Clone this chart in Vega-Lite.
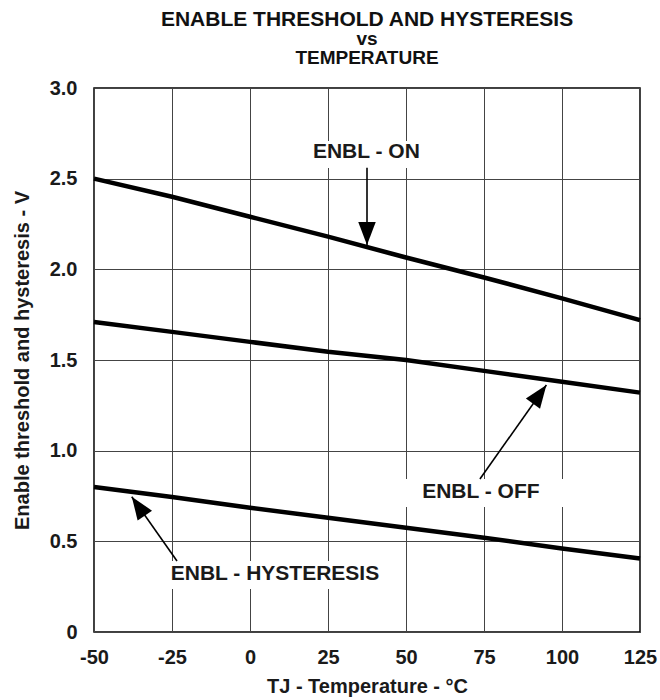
{
  "$schema": "https://vega.github.io/schema/vega-lite/v6.json",
  "autosize": "none",
  "width": 546,
  "height": 544,
  "padding": {"left": 94, "top": 88, "right": 20, "bottom": 68},
  "background": "white",
  "title": {
    "text": "ENABLE THRESHOLD AND HYSTERESIS",
    "subtitle": ["vs", "TEMPERATURE"],
    "font": "Liberation Sans",
    "fontSize": 21,
    "fontWeight": "bold",
    "color": "#111",
    "subtitleFont": "Liberation Sans",
    "subtitleFontSize": 19,
    "subtitleFontWeight": "bold",
    "subtitleColor": "#111",
    "subtitleLineHeight": 19,
    "subtitlePadding": 0,
    "anchor": "middle",
    "frame": "group",
    "offset": 10
  },
  "datasets": {
    "curves": [
      {"series": "ON", "t": -50, "v": 2.50}, {"series": "ON", "t": -25, "v": 2.40}, {"series": "ON", "t": 0, "v": 2.29}, {"series": "ON", "t": 25, "v": 2.18},
      {"series": "ON", "t": 50, "v": 2.065}, {"series": "ON", "t": 75, "v": 1.955}, {"series": "ON", "t": 100, "v": 1.84}, {"series": "ON", "t": 125, "v": 1.72},
      {"series": "OFF", "t": -50, "v": 1.71}, {"series": "OFF", "t": -25, "v": 1.655}, {"series": "OFF", "t": 0, "v": 1.60}, {"series": "OFF", "t": 25, "v": 1.545},
      {"series": "OFF", "t": 50, "v": 1.50}, {"series": "OFF", "t": 75, "v": 1.44}, {"series": "OFF", "t": 100, "v": 1.38}, {"series": "OFF", "t": 125, "v": 1.32},
      {"series": "HYST", "t": -50, "v": 0.80}, {"series": "HYST", "t": -25, "v": 0.745}, {"series": "HYST", "t": 0, "v": 0.685}, {"series": "HYST", "t": 25, "v": 0.63},
      {"series": "HYST", "t": 50, "v": 0.575}, {"series": "HYST", "t": 75, "v": 0.52}, {"series": "HYST", "t": 100, "v": 0.46}, {"series": "HYST", "t": 125, "v": 0.405}
    ],
    "boxes": [
      {"box": "ON", "t": 19.2, "t2": 55.9, "v": 2.559, "v2": 2.708},
      {"box": "OFF", "t": 48.1, "t2": 104.2, "v": 0.689, "v2": 0.844},
      {"box": "HYST", "t": -27.2, "t2": 44.9, "v": 0.237, "v2": 0.392}
    ],
    "labels": [
      {"label": "ENBL - ON", "t": 37.3, "v": 2.647},
      {"label": "ENBL - OFF", "t": 74.0, "v": 0.772},
      {"label": "ENBL - HYSTERESIS", "t": 8.0, "v": 0.320}
    ],
    "arrows": [
      {"arrow": "ON", "t": 37.5, "v": 2.134, "t2": 37.5, "v2": 2.56},
      {"arrow": "OFF", "t": 95.0, "v": 1.362, "t2": 73.7, "v2": 0.844},
      {"arrow": "HYST", "t": -37.9, "v": 0.746, "t2": -23.4, "v2": 0.392}
    ]
  },
  "encoding": {
    "x": {
      "field": "t", "type": "quantitative",
      "scale": {"domain": [-50, 125], "nice": false, "zero": false},
      "axis": {"values": [-50, -25, 0, 25, 50, 75, 100, 125], "labelExpr": "datum.value + ''", "labelFlush": false, "title": "TJ - Temperature - °C", "labelPadding": 15, "titlePadding": 9}
    },
    "y": {
      "field": "v", "type": "quantitative",
      "scale": {"domain": [0, 3], "nice": false, "zero": true},
      "axis": {"values": [0, 0.5, 1, 1.5, 2, 2.5, 3], "labelExpr": "datum.value == 0 ? '0' : format(datum.value, '.1f')", "title": "Enable threshold and hysteresis - V", "labelPadding": 17, "titlePadding": 17}
    }
  },
  "layer": [
    {
      "data": {"name": "boxes"},
      "mark": {"type": "rect", "color": "white", "stroke": null},
      "encoding": {"x2": {"field": "t2"}, "y2": {"field": "v2"}}
    },
    {
      "data": {"name": "curves"},
      "mark": {"type": "line", "color": "black", "strokeWidth": 4.5},
      "encoding": {"detail": {"field": "series"}}
    },
    {
      "data": {"name": "arrows"},
      "mark": {"type": "rule", "color": "black", "strokeWidth": 1.6},
      "encoding": {"x2": {"field": "t2"}, "y2": {"field": "v2"}}
    },
    {
      "data": {"name": "arrows"},
      "transform": [{"filter": "datum.arrow == 'ON'"}],
      "mark": {"type": "point", "shape": "M0,0L0.38,1L-0.38,1Z", "size": 2116, "filled": true, "color": "black", "opacity": 1, "angle": 180}
    },
    {
      "data": {"name": "arrows"},
      "transform": [{"filter": "datum.arrow == 'OFF'"}],
      "mark": {"type": "point", "shape": "M0,0L0.38,1L-0.38,1Z", "size": 2116, "filled": true, "color": "black", "opacity": 1, "angle": 35.8}
    },
    {
      "data": {"name": "arrows"},
      "transform": [{"filter": "datum.arrow == 'HYST'"}],
      "mark": {"type": "point", "shape": "M0,0L0.38,1L-0.38,1Z", "size": 2116, "filled": true, "color": "black", "opacity": 1, "angle": 325.3}
    },
    {
      "data": {"name": "labels"},
      "mark": {"type": "text", "font": "Liberation Sans", "fontSize": 21, "fontWeight": "bold", "color": "#1a1a1a", "align": "center", "baseline": "middle"},
      "encoding": {"text": {"field": "label"}}
    }
  ],
  "config": {
    "view": {"stroke": "black", "strokeWidth": 1.5},
    "axis": {
      "grid": true, "gridColor": "#444", "gridWidth": 1, "gridOpacity": 1,
      "domain": false, "ticks": false,
      "labelFont": "Liberation Sans", "labelFontSize": 20, "labelFontWeight": "bold", "labelColor": "#1a1a1a",
      "titleFont": "Liberation Sans", "titleFontSize": 20, "titleFontWeight": "bold", "titleColor": "#1a1a1a"
    }
  }
}
